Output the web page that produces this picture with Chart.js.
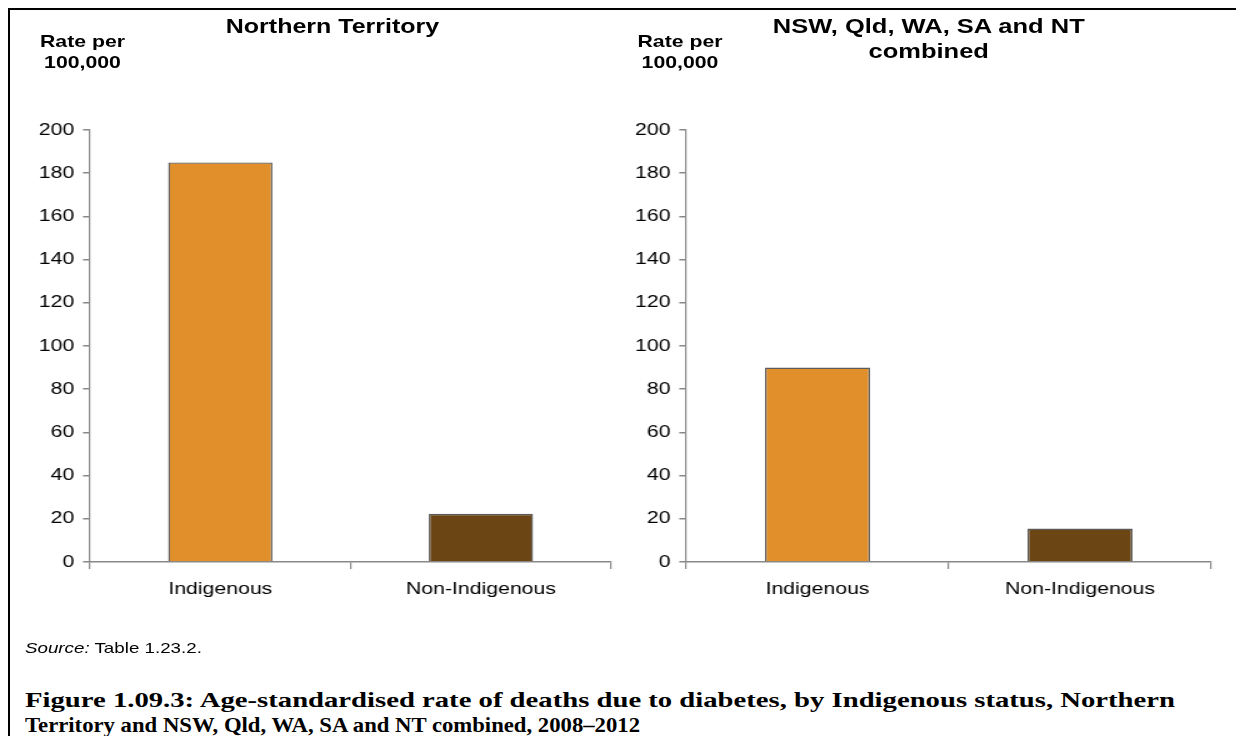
<!DOCTYPE html>
<html>
<head>
<meta charset="utf-8">
<script src="https://cdn.jsdelivr.net/npm/chart.js@4.4.1/dist/chart.umd.min.js"></script>
<style>
  html, body { margin: 0; padding: 0; background: #fff; }
  body { width: 1236px; height: 736px; position: relative; overflow: hidden; font-family: 'Liberation Sans', Arial, sans-serif; }
  .frame { position: absolute; left: 8px; top: 8px; width: 1400px; height: 900px; border-top: 2.5px solid #000; border-left: 2.5px solid #000; }
  /* the original figure is a little wider than tall, so the whole panel is stretched sideways */
  .stage { position: absolute; left: 0; top: 0; width: 989px; height: 680px; transform: scaleX(1.25); transform-origin: left top; }
  .cwrap { position: absolute; top: 110px; width: 480px; height: 500px; }
  .ttl { position: absolute; font-weight: bold; font-size: 20px; text-align: center; line-height: 25px; color: #000; }
  .ylab { position: absolute; font-weight: bold; font-size: 17px; text-align: center; line-height: 21px; color: #000; }
  .src { position: absolute; left: 20px; top: 639px; font-size: 15px; color: #000; }
  .cap { position: absolute; left: 25px; font-family: 'Liberation Serif', 'Times New Roman', serif; font-weight: bold; font-size: 21px; white-space: nowrap; transform-origin: left top; color: #000; }
</style>
</head>
<body>
<div class="frame"></div>

<div class="stage">
  <div class="ttl" style="left:126px; top:14px; width:280px;">Northern Territory</div>
  <div class="ylab" style="left:16px; top:31px; width:100px;">Rate per<br>100,000</div>
  <div class="cwrap" style="left:16px;"><canvas id="ntChart"></canvas></div>

  <div class="ttl" style="left:603px; top:14px; width:280px; font-size:20.4px;">NSW, Qld, WA, SA and NT<br>combined</div>
  <div class="ylab" style="left:494px; top:31px; width:100px;">Rate per<br>100,000</div>
  <div class="cwrap" style="left:493px;"><canvas id="allChart"></canvas></div>

  <div class="src"><i>Source:</i> Table 1.23.2.</div>
</div>

<div class="cap" data-w="1150" style="top:688px;">Figure 1.09.3: Age-standardised rate of deaths due to diabetes, by Indigenous status, Northern</div>
<div class="cap" data-w="615" style="top:713px;">Territory and NSW, Qld, WA, SA and NT combined, 2008–2012</div>

<script>
/* data */
const categories = ['Indigenous', 'Non-Indigenous'];
const ntRates = [185, 22.3];
const combinedRates = [90, 15.5];
const barColours = ['#E18F2A', '#6B4513'];
const yTicks = [0, 20, 40, 60, 80, 100, 120, 140, 160, 180, 200];

Chart.defaults.font.family = "'Liberation Sans', Arial, sans-serif";
Chart.defaults.font.size = 17;
Chart.defaults.color = '#000';

const AXIS = '#898989';

function makeChart(id, values, padRight) {
  return new Chart(document.getElementById(id), {
    type: 'bar',
    data: {
      labels: categories,
      datasets: [{
        data: values,
        backgroundColor: barColours,
        borderColor: '#5b5b5b',
        borderWidth: 1.4,
        categoryPercentage: 1,
        barPercentage: 0.4,
      }],
    },
    options: {
      responsive: true,
      maintainAspectRatio: false,
      animation: false,
      layout: { padding: { top: 20, right: padRight, left: 0, bottom: 0 } },
      plugins: { legend: { display: false }, tooltip: { enabled: false }, title: { display: false } },
      scales: {
        x: {
          afterFit: (s) => { s.height = 48; },
          grid: { display: true, drawOnChartArea: false, drawTicks: true, tickLength: 7, color: AXIS, lineWidth: 1.2, offset: true },
          border: { display: true, color: AXIS, width: 1.5 },
          ticks: { color: '#000', padding: 10 },
        },
        y: {
          min: 0, max: 200,
          afterFit: (s) => { s.width = 56; },
          afterBuildTicks: (s) => { s.ticks = yTicks.map((v) => ({ value: v })); },
          grid: { display: true, drawOnChartArea: false, drawTicks: true, tickLength: 5.6, color: AXIS, lineWidth: 1.5 },
          border: { display: true, color: AXIS, width: 1.2 },
          ticks: { color: '#000', padding: 7 },
        },
      },
    },
  });
}

makeChart('ntChart', ntRates, 7);
makeChart('allChart', combinedRates, 4);

/* stretch the caption lines to the original's measure */
document.querySelectorAll('.cap').forEach((el) => {
  const w = el.getBoundingClientRect().width;
  el.style.transform = `scaleX(${(+el.dataset.w / w).toFixed(4)})`;
});
</script>
</body>
</html>
